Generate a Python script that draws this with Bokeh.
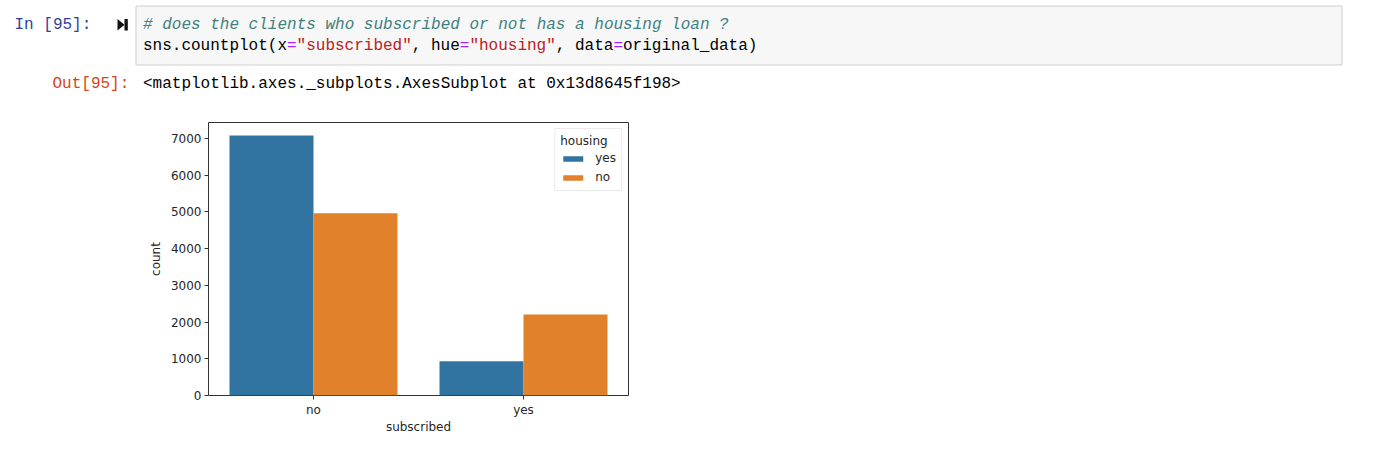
from bokeh.plotting import figure
from bokeh.models import ColumnDataSource, FactorRange, Range1d, FixedTicker, Legend, LegendItem
from bokeh.transform import dodge
from bokeh.core.properties import value
from bokeh.layouts import column, row
from bokeh.embed import file_html
from bokeh.resources import INLINE

# ---------------- data ----------------
subscribed = ["no", "yes"]
housing_yes = [7075, 935]
housing_no = [4960, 2205]
y_ticks = [0, 1000, 2000, 3000, 4000, 5000, 6000, 7000]

in_prompt = "In [95]:"
out_prompt = "Out[95]:"
code_comment = "# does the clients who subscribed or not has a housing loan ?"
code_segments = [
    ("sns.countplot(x", "black"),
    ("=", "purple"),
    ('"subscribed"', "string"),
    (", hue", "black"),
    ("=", "purple"),
    ('"housing"', "string"),
    (", data", "black"),
    ("=", "purple"),
    ("original_data)", "black"),
]
out_text = "<matplotlib.axes._subplots.AxesSubplot at 0x13d8645f198>"

# ---------------- styles ----------------
MONO = "Liberation Mono"
CHAR_W = 9.6
palette = {"black": "#000000", "purple": "#AA22FF", "string": "#BA2121"}
BLUE = "#3274a1"
ORANGE = "#e1812c"
TXT = "#262626"

# ---------------- header (notebook cell) ----------------
W = 1358
HH = 110
hdr = figure(width=W, height=HH, x_range=Range1d(0, W), y_range=Range1d(HH, 0),
             output_backend="svg", toolbar_location=None, title=None,
             x_axis_location=None, y_axis_location=None, min_border=0)
hdr.grid.visible = False
hdr.outline_line_color = None
hdr.background_fill_color = "white"
hdr.border_fill_color = "white"

# code cell box
hdr.quad(left=[135.5], right=[1341.5], top=[5.5], bottom=[64.5],
         fill_color="#f7f7f7", line_color="#cfcfcf", line_width=1)
# run indicator icon
hdr.patch(x=[117, 117, 124], y=[18.5, 30, 24.25], fill_color="#111111", line_color=None)
hdr.quad(left=[124], right=[127.3], top=[18.5], bottom=[30], fill_color="#111111", line_color=None)

# prompts
hdr.text(x=[14], y=[24], text=[in_prompt], text_font=value(MONO), text_font_size="16px",
         text_baseline="middle", text_align="left", text_color="#303F9F")
hdr.text(x=[52], y=[83], text=[out_prompt], text_font=value(MONO), text_font_size="16px",
         text_baseline="middle", text_align="left", text_color="#D84315")

# comment line
hdr.text(x=[142.5], y=[24], text=[code_comment], text_font=value(MONO), text_font_size="16px",
         text_font_style="italic", text_baseline="middle", text_align="left", text_color="#408080")

# code line with syntax colours
xs, txts, cols = [], [], []
pos = 0
for seg, c in code_segments:
    xs.append(142.5 + pos * CHAR_W)
    txts.append(seg)
    cols.append(palette[c])
    pos += len(seg)
src = ColumnDataSource(dict(x=xs, y=[45] * len(xs), text=txts, color=cols))
hdr.text(x="x", y="y", text="text", text_color="color", source=src, text_font=value(MONO),
         text_font_size="16px", text_baseline="middle", text_align="left")

# output repr line
hdr.text(x=[142.5], y=[83], text=[out_text], text_font=value(MONO), text_font_size="16px",
         text_baseline="middle", text_align="left", text_color="#000000")

# ---------------- chart ----------------
ymax = max(housing_yes + housing_no) * 1.05
p = figure(width=W, height=337, x_range=FactorRange(factors=subscribed), y_range=Range1d(0, ymax),
           output_backend="svg", toolbar_location=None, title=None,
           min_border_left=208, min_border_right=W - 628, min_border_top=12, min_border_bottom=52)
p.grid.visible = False
p.outline_line_color = "#333333"
p.outline_line_width = 1
p.background_fill_color = "white"
p.border_fill_color = "white"

source = ColumnDataSource(dict(subscribed=subscribed, yes=housing_yes, no=housing_no))
r_yes = p.vbar(x=dodge("subscribed", -0.2, range=p.x_range), top="yes", width=0.4,
               source=source, fill_color=BLUE, line_color=None)
r_no = p.vbar(x=dodge("subscribed", 0.2, range=p.x_range), top="no", width=0.4,
              source=source, fill_color=ORANGE, line_color=None)

p.yaxis.ticker = FixedTicker(ticks=y_ticks)
for ax in (p.xaxis[0], p.yaxis[0]):
    ax.axis_line_color = None
    ax.major_tick_line_color = "#333333"
    ax.major_tick_out = 4
    ax.major_tick_in = 0
    ax.minor_tick_line_color = None
    ax.major_label_text_font = "DejaVu Sans"
    ax.major_label_text_font_size = "12px"
    ax.major_label_text_color = TXT
    ax.axis_label_text_font = "DejaVu Sans"
    ax.axis_label_text_font_size = "12px"
    ax.axis_label_text_font_style = "normal"
    ax.axis_label_text_color = TXT
    ax.major_label_standoff = 3
p.xaxis.axis_label = "subscribed"
p.yaxis.axis_label = "count"
p.xaxis.axis_label_standoff = 0
p.yaxis.axis_label_standoff = 5

legend = Legend(items=[LegendItem(label="yes", renderers=[r_yes]),
                       LegendItem(label="no", renderers=[r_no])],
                location="top_right", title="housing")
legend.title_text_font = "DejaVu Sans"
legend.title_text_font_size = "12px"
legend.title_text_font_style = "normal"
legend.title_text_color = TXT
legend.title_standoff = 2
legend.label_text_font = "DejaVu Sans"
legend.label_text_font_size = "12px"
legend.label_text_color = TXT
legend.glyph_width = 25
legend.glyph_height = 7
legend.label_height = 16
legend.label_standoff = 10
legend.spacing = 3
legend.padding = 5
legend.margin = 6
legend.border_line_color = "#d6d6d6"
legend.border_line_width = 1
legend.background_fill_color = "white"
legend.background_fill_alpha = 0.8
p.add_layout(legend)

layout = column(hdr, row(p))
open("out.html", "w").write(file_html(layout, INLINE))
